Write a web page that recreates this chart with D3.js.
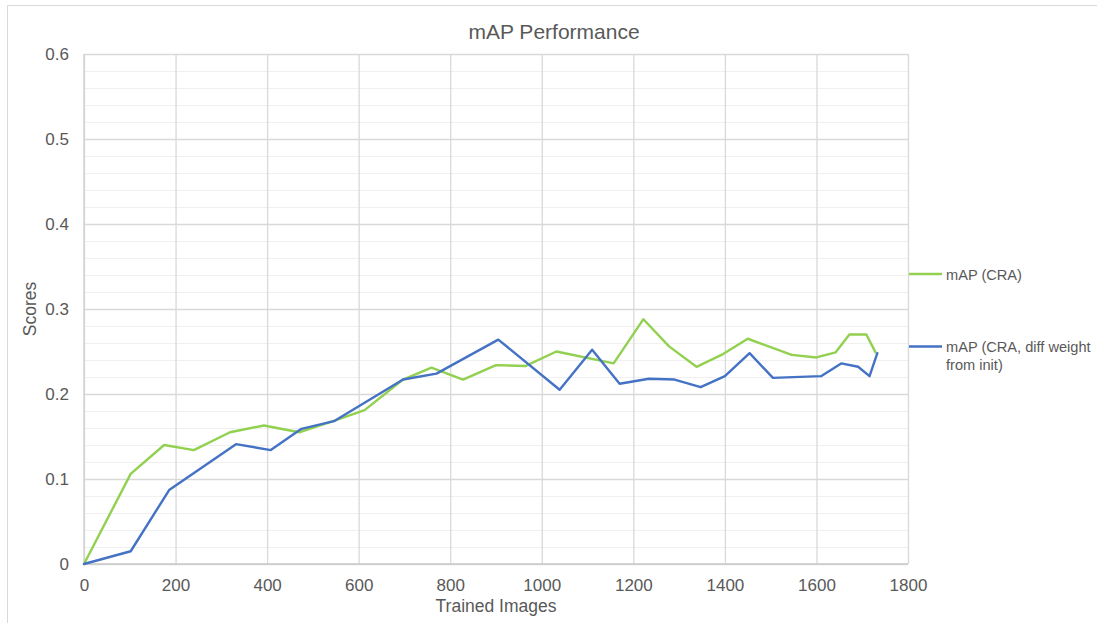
<!DOCTYPE html>
<html>
<head>
<meta charset="utf-8">
<script src="https://cdn.jsdelivr.net/npm/d3@7"></script>
<style>
  html, body { margin: 0; padding: 0; background: #fff; }
  svg { display: block; font-family: "Liberation Sans", Arial, sans-serif; }
</style>
</head>
<body>
<svg id="chart" width="1097" height="623"></svg>
<script>
// Series: mAP (CRA)
const craX = [0, 102, 175, 240, 319, 393, 470, 544, 613, 697, 759, 828, 900, 965, 1032, 1157, 1222, 1278, 1338, 1396, 1450, 1546, 1600, 1642, 1672, 1709, 1729];
const craY = [0, 0.106, 0.140, 0.134, 0.155, 0.163, 0.155, 0.168, 0.181, 0.217, 0.231, 0.217, 0.234, 0.233, 0.250, 0.236, 0.288, 0.256, 0.232, 0.247, 0.265, 0.246, 0.243, 0.249, 0.270, 0.270, 0.249];

// Series: mAP (CRA, diff weight from init)
const diffX = [0, 102, 186, 332, 408, 475, 546, 697, 770, 905, 1039, 1110, 1170, 1234, 1290, 1347, 1400, 1454, 1505, 1610, 1654, 1691, 1716, 1733];
const diffY = [0, 0.015, 0.087, 0.141, 0.134, 0.159, 0.168, 0.217, 0.224, 0.264, 0.205, 0.252, 0.212, 0.218, 0.217, 0.208, 0.221, 0.248, 0.219, 0.221, 0.236, 0.232, 0.221, 0.248];

// Axis ticks
const xTicks = [0, 200, 400, 600, 800, 1000, 1200, 1400, 1600, 1800];
const yTicks = [0, 0.1, 0.2, 0.3, 0.4, 0.5, 0.6];
const yMinorTicks = d3.range(0, 0.6001, 0.02);

const seriesNames = ["mAP (CRA)", "mAP (CRA, diff weight from init)"];
const seriesColors = ["#92d050", "#4472c4"];

const svg = d3.select("#chart");
const plot = { left: 84, right: 908, top: 54, bottom: 564 };
const textColor = "#595959";

// Outer chart frame
svg.append("rect")
  .attr("x", 7.5).attr("y", 5.5)
  .attr("width", 1200).attr("height", 700)
  .attr("fill", "#fff").attr("stroke", "#d9d9d9").attr("stroke-width", 1);

const x = d3.scaleLinear().domain([0, 1800]).range([plot.left, plot.right]);
const y = d3.scaleLinear().domain([0, 0.6]).range([plot.bottom, plot.top]);

// Minor horizontal gridlines
svg.append("g")
  .attr("transform", `translate(${plot.left},0)`)
  .call(d3.axisLeft(y).tickValues(yMinorTicks).tickSize(-(plot.right - plot.left)).tickFormat(""))
  .call(g => g.select(".domain").remove())
  .call(g => g.selectAll("line").attr("stroke", "#f0f0f0").attr("stroke-width", 1));

// Major horizontal gridlines
svg.append("g")
  .attr("transform", `translate(${plot.left},0)`)
  .call(d3.axisLeft(y).tickValues(yTicks).tickSize(-(plot.right - plot.left)).tickFormat(""))
  .call(g => g.select(".domain").remove())
  .call(g => g.selectAll("line").attr("stroke", "#d9d9d9").attr("stroke-width", 1.3));

// Vertical gridlines
svg.append("g")
  .attr("transform", `translate(0,${plot.bottom})`)
  .call(d3.axisBottom(x).tickValues(xTicks).tickSize(-(plot.bottom - plot.top)).tickFormat(""))
  .call(g => g.select(".domain").remove())
  .call(g => g.selectAll("line").attr("stroke", "#d9d9d9").attr("stroke-width", 1.3));

// Axis baselines
svg.append("line")
  .attr("x1", x(0)).attr("x2", x(1800)).attr("y1", y(0)).attr("y2", y(0))
  .attr("stroke", "#c8c8c8").attr("stroke-width", 1.5);
svg.append("line")
  .attr("x1", x(0)).attr("x2", x(0)).attr("y1", y(0)).attr("y2", y(0.6))
  .attr("stroke", "#d0d0d0").attr("stroke-width", 1.3);

// Tick labels
svg.append("g")
  .attr("transform", `translate(${plot.left - 6},0)`)
  .call(d3.axisLeft(y).tickValues(yTicks).tickSize(0).tickPadding(9).tickFormat(d => d3.format("")(+d.toFixed(1))))
  .call(g => g.select(".domain").remove())
  .call(g => g.selectAll("text").attr("fill", textColor).attr("font-size", "17px").attr("font-family", "Liberation Sans, Arial, sans-serif"));

svg.append("g")
  .attr("transform", `translate(0,${plot.bottom + 7})`)
  .call(d3.axisBottom(x).tickValues(xTicks).tickSize(0).tickPadding(8).tickFormat(d3.format("d")))
  .call(g => g.select(".domain").remove())
  .call(g => g.selectAll("text").attr("fill", textColor).attr("font-size", "17px").attr("font-family", "Liberation Sans, Arial, sans-serif"));

// Series lines
const line = d3.line().x(d => x(d[0])).y(d => y(d[1]));
const series = [
  d3.zip(craX, craY),
  d3.zip(diffX, diffY)
];
series.forEach((pts, i) => {
  svg.append("path")
    .datum(pts)
    .attr("d", line)
    .attr("fill", "none")
    .attr("stroke", seriesColors[i])
    .attr("stroke-width", 2.4)
    .attr("stroke-linejoin", "round")
    .attr("stroke-linecap", "round");
});

// Title
svg.append("text")
  .attr("x", 554).attr("y", 39)
  .attr("text-anchor", "middle")
  .attr("fill", textColor)
  .attr("font-size", "21px")
  .text("mAP Performance");

// Axis titles
svg.append("text")
  .attr("x", (plot.left + plot.right) / 2).attr("y", 612)
  .attr("text-anchor", "middle")
  .attr("fill", textColor)
  .attr("font-size", "17.5px")
  .text("Trained Images");

svg.append("text")
  .attr("transform", `translate(36,${(plot.top + plot.bottom) / 2}) rotate(-90)`)
  .attr("text-anchor", "middle")
  .attr("fill", textColor)
  .attr("font-size", "17.5px")
  .text("Scores");

// Legend
const legendRows = [
  { y: 274, lines: [seriesNames[0]] },
  { y: 346.5, lines: ["mAP (CRA, diff weight", "from init)"] }
];
legendRows.forEach((row, i) => {
  svg.append("line")
    .attr("x1", 909).attr("x2", 942)
    .attr("y1", row.y).attr("y2", row.y)
    .attr("stroke", seriesColors[i]).attr("stroke-width", 2.4);
  const t = svg.append("text")
    .attr("x", 946).attr("y", row.y + 5.5)
    .attr("fill", textColor)
    .attr("font-size", "14.6px");
  row.lines.forEach((s, j) => {
    t.append("tspan").attr("x", 946).attr("dy", j === 0 ? 0 : 18).text(s);
  });
});
</script>
</body>
</html>
